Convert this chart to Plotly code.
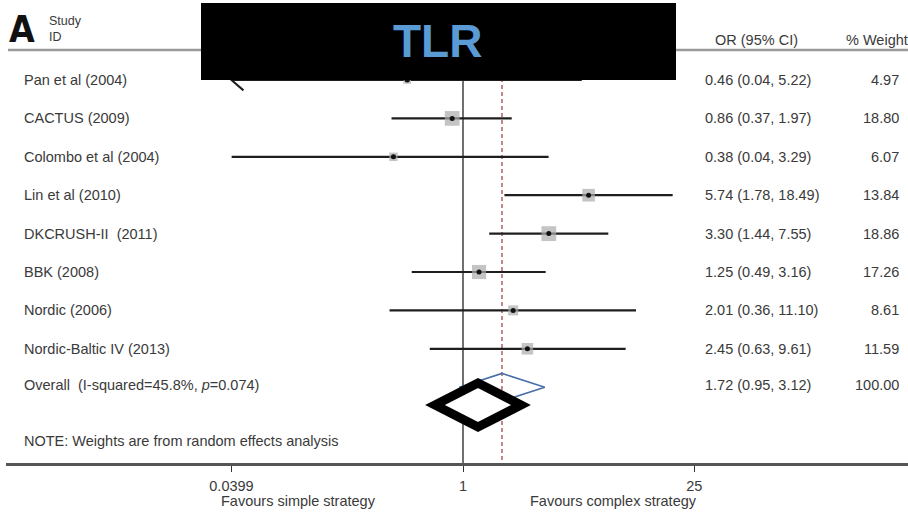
import plotly.graph_objects as go
import math

# ---------------- data ----------------
studies = ["Pan et al (2004)", "CACTUS (2009)", "Colombo et al (2004)", "Lin et al (2010)",
           "DKCRUSH-II  (2011)", "BBK (2008)", "Nordic (2006)", "Nordic-Baltic IV (2013)"]
or_vals = [0.46, 0.86, 0.38, 5.74, 3.30, 1.25, 2.01, 2.45]
ci_low = [0.04, 0.37, 0.04, 1.78, 1.44, 0.49, 0.36, 0.63]
ci_high = [5.22, 1.97, 3.29, 18.49, 7.55, 3.16, 11.10, 9.61]
weights = [4.97, 18.80, 6.07, 13.84, 18.86, 17.26, 8.61, 11.59]
ci_text = ["0.46 (0.04, 5.22)", "0.86 (0.37, 1.97)", "0.38 (0.04, 3.29)", "5.74 (1.78, 18.49)",
           "3.30 (1.44, 7.55)", "1.25 (0.49, 3.16)", "2.01 (0.36, 11.10)", "2.45 (0.63, 9.61)"]
weight_text = ["4.97", "18.80", "6.07", "13.84", "18.86", "17.26", "8.61", "11.59"]
arrow_left = [True, False, False, False, False, False, False, False]

overall_or = 1.72
overall_low = 0.95
overall_high = 3.12
overall_label = "Overall  (I-squared=45.8%, <i>p</i>=0.074)"
overall_ci_text = "1.72 (0.95, 3.12)"
overall_weight_text = "100.00"

tick_vals = [0.0399, 1, 25]
tick_text = ["0.0399", "1", "25"]

# ---------------- geometry ----------------
W, H = 908, 512
ML, MR, MT, MB = 6, 0, 0, 49
PW, PH = W - ML - MR, H - MT - MB
PX_PER_DEC = 165.5
X0 = 463  # pixel of OR = 1
xr = [(ML - X0) / PX_PER_DEC, (W - MR - X0) / PX_PER_DEC]
ROW0, ROWH = 80, 38.4
yr = [(H - MB - ROW0) / ROWH, (MT - ROW0) / ROWH]


def px(x):
    return (x - ML) / PW


def py(y):
    return (H - MB - y) / PH


FONT = "Liberation Sans, Arial, sans-serif"
TXT = "#3a3a3a"
FS = 14.5

fig = go.Figure()

n = len(studies)
rows = list(range(n))
overall_row = n

# reference lines
ytop_line = -0.6
fig.add_trace(go.Scatter(x=[1, 1], y=[ytop_line, yr[0]], mode="lines",
                         line=dict(color="#222222", width=1.3), hoverinfo="skip", showlegend=False))
fig.add_trace(go.Scatter(x=[overall_or, overall_or], y=[ytop_line, yr[0]], mode="lines",
                         line=dict(color="#9b3a3a", width=1.2, dash="4px,3px"), hoverinfo="skip", showlegend=False))

# CI lines
xmin_axis = tick_vals[0]
for i in rows:
    lo = xmin_axis if arrow_left[i] else ci_low[i]
    fig.add_trace(go.Scatter(x=[lo, ci_high[i]], y=[i, i], mode="lines",
                             line=dict(color="#1e1e1e", width=2.2), hoverinfo="skip", showlegend=False))
    if arrow_left[i]:
        dx = 10 ** (12 / PX_PER_DEC)
        fig.add_trace(go.Scatter(x=[lo * dx, lo, lo * dx], y=[i - 0.27, i, i + 0.27], mode="lines",
                                 line=dict(color="#1e1e1e", width=2), hoverinfo="skip", showlegend=False))

# weight squares and point estimates
sizes = [3.4 * math.sqrt(w) for w in weights]
fig.add_trace(go.Scatter(x=or_vals, y=rows, mode="markers",
                         marker=dict(symbol="square", size=sizes, color="#ababab", line=dict(width=0)),
                         hoverinfo="skip", showlegend=False))
fig.add_trace(go.Scatter(x=or_vals, y=rows, mode="markers",
                         marker=dict(symbol="circle", size=5, color="#111111"),
                         hoverinfo="skip", showlegend=False))

# overall diamond
dh = 0.36
fig.add_trace(go.Scatter(x=[overall_low, overall_or, overall_high, overall_or, overall_low],
                         y=[overall_row, overall_row - dh, overall_row, overall_row + dh, overall_row],
                         mode="lines", line=dict(color="#4a6fa8", width=1.6),
                         hoverinfo="skip", showlegend=False))

annotations = []


def txt(x, y, s, anchor="left", size=FS, color=TXT, **kw):
    annotations.append(dict(x=px(x), y=py(y), xref="paper", yref="paper", text=s, showarrow=False,
                            xanchor=anchor, yanchor="middle", font=dict(family=FONT, size=size, color=color), **kw))


row_px = [ROW0 + ROWH * i for i in range(n + 1)]
for i in rows:
    txt(22, row_px[i], studies[i])
    txt(703, row_px[i], ci_text[i])
    txt(901, row_px[i], weight_text[i], anchor="right")
txt(22, row_px[n] - 2, overall_label)
txt(703, row_px[n] - 2, overall_ci_text)
txt(901, row_px[n] - 2, overall_weight_text, anchor="right")
txt(22, 441, "NOTE: Weights are from random effects analysis")

# headers
txt(47, 21, "Study", size=12.5)
txt(47, 37, "ID", size=12.5)
txt(713, 40, "OR (95% CI)")
txt(910, 40, "% Weight", anchor="right")
annotations.append(dict(x=px(7), y=py(29), xref="paper", yref="paper", text="<b>A</b>", showarrow=False,
                        xanchor="left", yanchor="middle",
                        font=dict(family="Liberation Sans Narrow, DejaVu Sans Condensed, sans-serif",
                                  size=37, color="#111")))

# favours labels
txt(298, 501, "Favours simple strategy", anchor="center")
txt(613, 501, "Favours complex strategy", anchor="center")

shapes = []
# header separator line
shapes.append(dict(type="line", xref="paper", yref="paper", x0=px(8), x1=px(908), y0=py(50), y1=py(50),
                   line=dict(color="#9a9a9a", width=2.5)))
# title box overlay
shapes.append(dict(type="rect", xref="paper", yref="paper", x0=px(201), x1=px(676), y0=py(3), y1=py(80),
                   fillcolor="#000000", line=dict(width=0), layer="above"))
# black diamond overlay
cx, cy, hw, hh = 478, 405, 43, 22
path = "M {} {} L {} {} L {} {} L {} {} Z".format(px(cx - hw), py(cy), px(cx), py(cy - hh),
                                                  px(cx + hw), py(cy), px(cx), py(cy + hh))
shapes.append(dict(type="path", xref="paper", yref="paper", path=path, fillcolor="#ffffff",
                   line=dict(color="#000000", width=9), layer="above"))

annotations.append(dict(x=px(437), y=py(41), xref="paper", yref="paper", text="<b>TLR</b>", showarrow=False,
                        xanchor="center", yanchor="middle",
                        font=dict(family="Liberation Sans, Arial, sans-serif", size=46, color="#5b9bd5")))

fig.update_layout(
    width=W, height=H,
    margin=dict(l=ML, r=MR, t=MT, b=MB),
    paper_bgcolor="white", plot_bgcolor="white",
    showlegend=False,
    xaxis=dict(type="log", range=xr, tickvals=tick_vals, ticktext=tick_text, ticks="outside",
               ticklen=6, tickwidth=1.3, tickcolor="#333", showgrid=False, zeroline=False,
               showline=True, linecolor="#555", linewidth=2.5,
               tickfont=dict(family=FONT, size=FS, color=TXT), ticklabelstandoff=2, fixedrange=True),
    yaxis=dict(range=yr, visible=False, showgrid=False, zeroline=False, fixedrange=True),
    annotations=annotations,
    shapes=shapes,
)

fig.write_html("out.html", config={"displayModeBar": False},
               post_script="document.body.style.margin='0';document.body.style.overflow='hidden';")
